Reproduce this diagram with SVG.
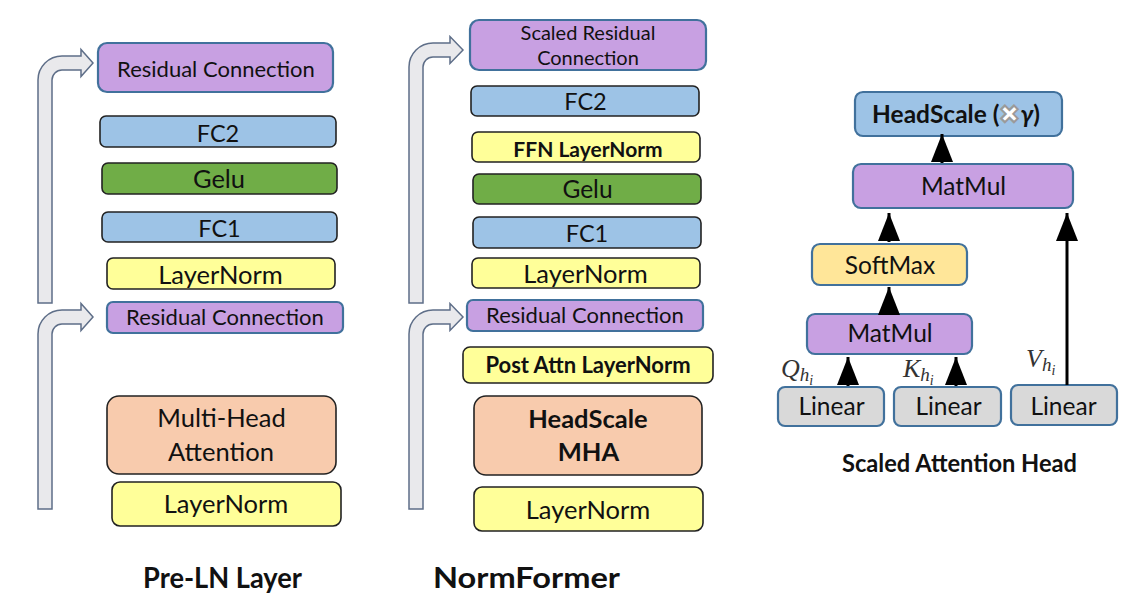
<svg xmlns="http://www.w3.org/2000/svg" width="1132" height="604" viewBox="0 0 1132 604">
  <defs>
    <style>
      .box { stroke: #222; stroke-width: 1.6; }
      .blue-edge { stroke: #41719C; stroke-width: 2.2; }
      .purple { fill: #C8A0E2; }
      .fc { fill: #9DC3E6; }
      .gelu { fill: #70AD47; }
      .ln { fill: #FFFF99; }
      .mha { fill: #F8CBAD; }
      .soft { fill: #FFE699; }
      .lin { fill: #D9D9D9; }
      .skip { fill: #E9E9EC; stroke: #5E6E88; stroke-width: 1.5; }
      text { font-family: Lato, "Liberation Sans", sans-serif; fill: #111; text-anchor: middle; }
      .s20 { font-size: 20px; }
      .s21 { font-size: 21px; }
      .s22 { font-size: 22px; }
      .s23 { font-size: 23.5px; }
      .s24 { font-size: 24.5px; }
      .s25 { font-size: 25.5px; }
      .b { font-weight: bold; }
      .title { font-weight: bold; }
      .math { font-family: "Liberation Serif", "DejaVu Serif", serif; font-style: italic; fill: #333; text-anchor: start; }
      .conn { stroke: #000; stroke-width: 3; fill: none; }
    </style>
    <marker id="tri" markerUnits="userSpaceOnUse" markerWidth="28" markerHeight="22" refX="28" refY="11" orient="auto">
      <path d="M0,0 L28,11 L0,22 Z" fill="#000"/>
    </marker>
  </defs>
  <rect width="1132" height="604" fill="#fff"/>

  <!-- Pre-LN layer -->
  <g id="preln-res2"><rect class="purple blue-edge" x="98" y="43" width="235" height="49" rx="9"/><text class="s22" x="216" y="77">Residual Connection</text></g>
  <g id="preln-fc2"><rect class="fc box" x="100" y="116" width="236" height="31" rx="6"/><text class="s23" x="218" y="142">FC2</text></g>
  <g id="preln-gelu"><rect class="gelu box" x="102" y="163" width="235" height="31" rx="6"/><text class="s25" x="219" y="188">Gelu</text></g>
  <g id="preln-fc1"><rect class="fc box" x="102" y="212" width="235" height="30" rx="6"/><text class="s23" x="219.5" y="237">FC1</text></g>
  <g id="preln-ln2"><rect class="ln box" x="107" y="258" width="228" height="31" rx="6"/><text class="s25" x="220.5" y="284">LayerNorm</text></g>
  <g id="preln-res1"><rect class="purple blue-edge" x="107" y="302" width="236" height="31" rx="6"/><text class="s22" x="225" y="325">Residual Connection</text></g>
  <g id="preln-mha"><rect class="mha box" x="107" y="396" width="229" height="78" rx="12"/><text class="s25" x="221.5" y="427">Multi-Head</text><text class="s25" x="221" y="461">Attention</text></g>
  <g id="preln-ln1"><rect class="ln box" x="112" y="482" width="229" height="44" rx="8"/><text class="s25" x="226" y="513">LayerNorm</text></g>
  <text class="title" x="222.5" y="588" font-size="28" textLength="159" lengthAdjust="spacingAndGlyphs">Pre-LN Layer</text>

  <!-- NormFormer layer -->
  <g id="nf-res2"><rect class="purple blue-edge" x="470" y="20" width="236" height="50" rx="9"/><text class="s20" x="588" y="40">Scaled Residual</text><text class="s20" x="588" y="65">Connection</text></g>
  <g id="nf-fc2"><rect class="fc box" x="471" y="86" width="228" height="30" rx="6"/><text class="s23" x="585.5" y="110">FC2</text></g>
  <g id="nf-ffnln"><rect class="ln box" x="472" y="132" width="228" height="30" rx="6"/><text class="s21 b" x="588" y="157">FFN LayerNorm</text></g>
  <g id="nf-gelu"><rect class="gelu box" x="473" y="174" width="228" height="30" rx="6"/><text class="s24" x="587.5" y="198">Gelu</text></g>
  <g id="nf-fc1"><rect class="fc box" x="473" y="217" width="228" height="31" rx="6"/><text class="s23" x="587" y="242">FC1</text></g>
  <g id="nf-ln2"><rect class="ln box" x="472" y="258" width="228" height="30" rx="6"/><text class="s25" x="585.5" y="283">LayerNorm</text></g>
  <g id="nf-res1"><rect class="purple blue-edge" x="467" y="300" width="236" height="31" rx="6"/><text class="s22" x="585" y="323">Residual Connection</text></g>
  <g id="nf-postln"><rect class="ln box" x="463" y="347" width="250" height="36" rx="7"/><text class="s22 b" x="588" y="373">Post Attn LayerNorm</text></g>
  <g id="nf-mha"><rect class="mha box" x="474" y="396" width="228" height="79" rx="12"/><text class="s25 b" x="588" y="428">HeadScale</text><text class="s25 b" x="588.5" y="461">MHA</text></g>
  <g id="nf-ln1"><rect class="ln box" x="474" y="487" width="229" height="44" rx="8"/><text class="s25" x="588" y="519">LayerNorm</text></g>
  <text class="title" x="526.5" y="588" font-size="29" textLength="187" lengthAdjust="spacingAndGlyphs">NormFormer</text>

  <!-- Scaled attention head -->
  <g id="head-scale"><rect class="fc blue-edge" x="855" y="92" width="207" height="44" rx="8"/><text class="s24 b" x="956" y="123">HeadScale (<tspan fill="#fff" stroke="#9a9a9a" stroke-width="1.2">✖</tspan><tspan font-style="italic">γ</tspan>)</text></g>
  <g id="matmul-out"><rect class="purple blue-edge" x="853" y="164" width="220" height="44" rx="8"/><text class="s24" x="963.5" y="195">MatMul</text></g>
  <g id="softmax"><rect class="soft blue-edge" x="812" y="244" width="155" height="41" rx="8"/><text class="s24" x="890" y="274">SoftMax</text></g>
  <g id="matmul-qk"><rect class="purple blue-edge" x="807" y="314" width="165" height="40" rx="8"/><text class="s24" x="890" y="342">MatMul</text></g>
  <g id="linear-q"><rect class="lin blue-edge" x="778" y="387" width="106" height="39" rx="7"/><text class="s24" x="831.5" y="415">Linear</text></g>
  <g id="linear-k"><rect class="lin blue-edge" x="894" y="387" width="107" height="39" rx="7"/><text class="s24" x="948.5" y="415">Linear</text></g>
  <g id="linear-v"><rect class="lin blue-edge" x="1011" y="385" width="106" height="40" rx="7"/><text class="s24" x="1063.5" y="415">Linear</text></g>
  <text class="title" x="959.5" y="472" font-size="24" textLength="235" lengthAdjust="spacingAndGlyphs">Scaled Attention Head</text>

  <!-- projection labels -->
  <text class="math" x="781" y="377" font-size="26">Q<tspan font-size="19" dy="4">h</tspan><tspan font-size="14" dy="4">i</tspan></text>
  <text class="math" x="903" y="377" font-size="26">K<tspan font-size="19" dy="4">h</tspan><tspan font-size="14" dy="4">i</tspan></text>
  <text class="math" x="1026" y="367" font-size="26">V<tspan font-size="19" dy="4">h</tspan><tspan font-size="14" dy="4">i</tspan></text>

  <!-- connectors -->
  <g id="connectors">
    <path class="skip" d="M38 303 V80 A24 24 0 0 1 62 56 H81 V49.5 L93 63 L81 76.5 V70 H62 A10 10 0 0 0 52 80 V303 Z"/>
    <path class="skip" d="M38 509 V334 A24 24 0 0 1 62 310 H81 V303.5 L93 317 L81 330.5 V324 H62 A10 10 0 0 0 52 334 V509 Z"/>
    <path class="skip" d="M409 303 V67 A24 24 0 0 1 433 43 H450 V36.5 L463 50 L450 63.5 V57 H433 A10 10 0 0 0 423 67 V303 Z"/>
    <path class="skip" d="M409 509 V334 A24 24 0 0 1 433 310 H450 V303.5 L463 317 L450 330.5 V324 H433 A10 10 0 0 0 423 334 V509 Z"/>
    <line class="conn" x1="942" y1="163" x2="942" y2="134" marker-end="url(#tri)"/>
    <line class="conn" x1="889" y1="242" x2="889" y2="213" marker-end="url(#tri)"/>
    <line class="conn" x1="889" y1="314" x2="889" y2="287" marker-end="url(#tri)"/>
    <line class="conn" x1="848" y1="386" x2="848" y2="357" marker-end="url(#tri)"/>
    <line class="conn" x1="956" y1="386" x2="956" y2="357" marker-end="url(#tri)"/>
    <line class="conn" x1="1067" y1="385" x2="1067" y2="213" marker-end="url(#tri)"/>
  </g>
</svg>
